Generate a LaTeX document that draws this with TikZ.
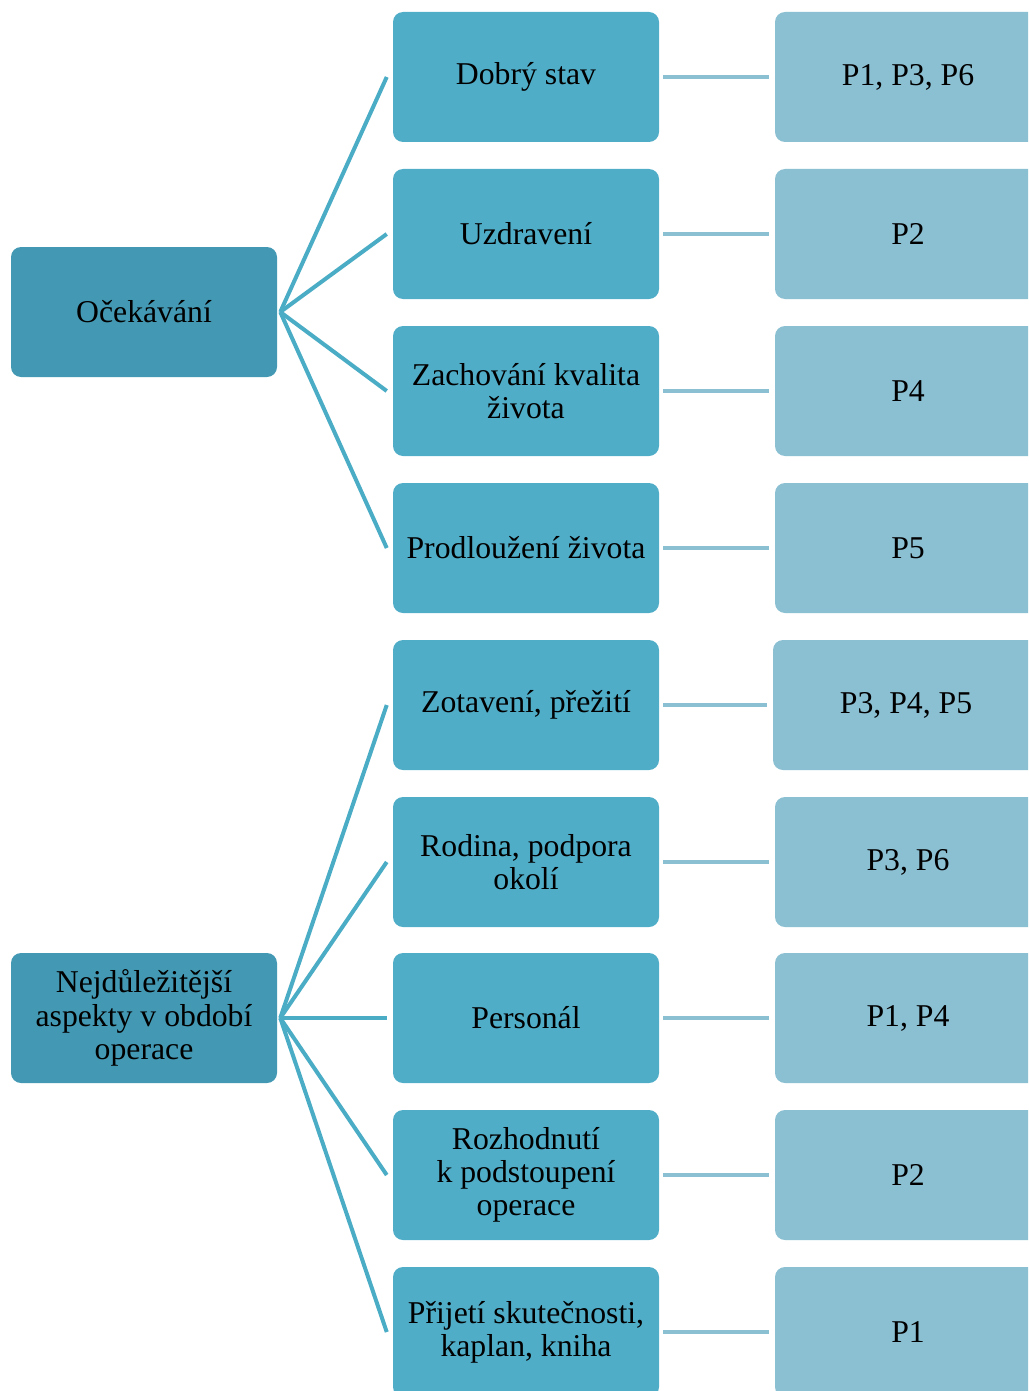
\documentclass[tikz,border=0pt]{standalone}
\usepackage{fontspec}
\setmainfont{Liberation Serif}
\definecolor{rootfill}{RGB}{67,153,179}
\definecolor{midfill}{RGB}{80,173,200}
\definecolor{leaffill}{RGB}{139,191,210}
\definecolor{spokecol}{RGB}{75,172,198}
\definecolor{linkcol}{RGB}{139,191,210}
\tikzset{
  box/.style={rounded corners=7.5pt, minimum width=199.5pt, minimum height=97.5pt,
    inner sep=2pt, align=center, text=black,
    font=\fontsize{23.8pt}{24.9pt}\selectfont},
  rootbox/.style={box, fill=rootfill},
  midbox/.style={box, fill=midfill},
  leafbox/.style={box, fill=leaffill},
  spoke/.style={draw=spokecol, line width=3pt},
  link/.style={draw=linkcol, line width=3pt}
}
\begin{document}
\begin{tikzpicture}[x=0.75pt, y=-0.75pt]
  \clip (0,0) rectangle (1028,1391);

  % root categories
  \node[rootbox] (r1) at (144,312) {Očekávání};
  \node[rootbox] (r2) at (144,1018) {Nejdůležitější\\aspekty v období\\operace};

  % second level
  \node[midbox] (m1) at (526,77)   {Dobrý stav};
  \node[midbox] (m2) at (526,234)  {Uzdravení};
  \node[midbox] (m3) at (526,391)  {Zachování kvalita\\života};
  \node[midbox] (m4) at (526,548)  {Prodloužení života};
  \node[midbox] (m5) at (526,705)  {Zotavení, přežití};
  \node[midbox] (m6) at (526,862)  {Rodina, podpora\\okolí};
  \node[midbox] (m7) at (526,1018) {Personál};
  \node[midbox] (m8) at (526,1175) {Rozhodnutí\\k podstoupení\\operace};
  \node[midbox] (m9) at (526,1332) {Přijetí skutečnosti,\\kaplan, kniha};

  % respondents
  \node[leafbox] (p1) at (908,77)   {P1, P3, P6};
  \node[leafbox] (p2) at (908,234)  {P2};
  \node[leafbox] (p3) at (908,391)  {P4};
  \node[leafbox] (p4) at (908,548)  {P5};
  \node[leafbox] (p5) at (906,705)  {P3, P4, P5};
  \node[leafbox] (p6) at (908,862)  {P3, P6};
  \node[leafbox] (p7) at (908,1018) {P1, P4};
  \node[leafbox] (p8) at (908,1175) {P2};
  \node[leafbox] (p9) at (908,1332) {P1};

  % spokes from the roots
  \foreach \m in {m1,m2,m3,m4}
    \draw[spoke] ([xshift=2.25pt]r1.east) -- ([xshift=-4.5pt]\m.west);
  \foreach \m in {m5,m6,m7,m8,m9}
    \draw[spoke] ([xshift=2.25pt]r2.east) -- ([xshift=-4.5pt]\m.west);

  % links to respondents
  \foreach \i in {1,...,9}
    \draw[link] ([xshift=3pt]m\i.east) -- ([xshift=-4.5pt]p\i.west);
\end{tikzpicture}
\end{document}
